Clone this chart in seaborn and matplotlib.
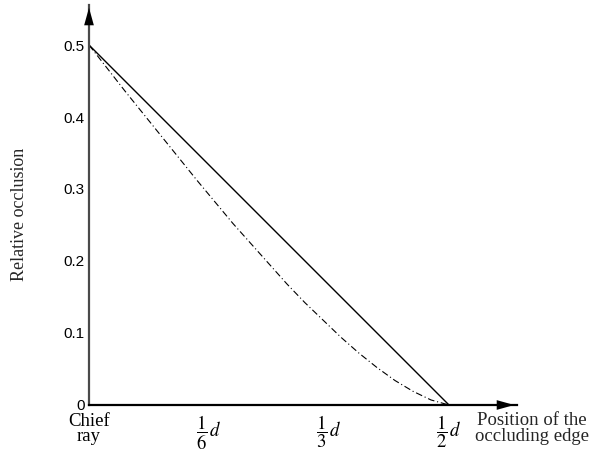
import numpy as np
import pandas as pd
import matplotlib
matplotlib.use("Agg")
import matplotlib.pyplot as plt
import seaborn as sns

# edge position in units of d, relative occlusion
edge_pos = [0, 0.025, 0.05, 0.075, 0.1, 0.125, 0.15, 0.175, 0.2, 0.225, 0.25,
            0.275, 0.3, 0.325, 0.35, 0.375, 0.4, 0.425, 0.45, 0.475, 0.5]
occl_curve = [0.5, 0.468, 0.436, 0.405, 0.374, 0.343, 0.312, 0.282, 0.252, 0.224, 0.196,
              0.168, 0.142, 0.118, 0.094, 0.072, 0.052, 0.034, 0.019, 0.007, 0.0]
line_pos = [0, 0.5]
occl_line = [0.5, 0.0]

x_ticks = [0, 1/6, 1/3, 1/2]
x_labels = ["Chief\nray", r"$\dfrac{1}{6}\,d$", r"$\dfrac{1}{3}\,d$", r"$\dfrac{1}{2}\,d$"]
y_ticks = [0, 0.1, 0.2, 0.3, 0.4, 0.5]
y_labels = ["0", "0.1", "0.2", "0.3", "0.4", "0.5"]

sns.set_style("white")
plt.rcParams["font.family"] = ["Liberation Serif", "DejaVu Serif"]
plt.rcParams["mathtext.fontset"] = "stix"

W, H = 603, 453
fig = plt.figure(figsize=(W / 100, H / 100), dpi=100)
x0, x1 = 89, 517
y0, y1 = 405, 5
ax = fig.add_axes([x0 / W, (H - y0) / H, (x1 - x0) / W, (y0 - y1) / H])
px = 0.5 / 360
ax.set_xlim(0, (x1 - x0) * px)
ax.set_ylim(0, (y0 - y1) * (0.5 / 360))

sns.lineplot(x=line_pos, y=occl_line, ax=ax, color="black", lw=1.0)
sns.lineplot(x=edge_pos, y=occl_curve, ax=ax, color="black", lw=0.8,
             linestyle=(0, (6, 2.5, 1, 2.5)))

for s in ["top", "right"]:
    ax.spines[s].set_visible(False)
ax.spines["left"].set_color("#4a4a4a")
ax.spines["left"].set_linewidth(1.6)
ax.spines["bottom"].set_color("black")
ax.spines["bottom"].set_linewidth(1.6)

# arrow heads
ax.annotate("", xy=(0, 1), xycoords="axes fraction", xytext=(0, 0.96),
            arrowprops=dict(arrowstyle="-|>,head_length=0.9,head_width=0.25",
                            color="black", lw=0, mutation_scale=14),
            annotation_clip=False)
ax.annotate("", xy=(1, 0), xycoords="axes fraction", xytext=(0.96, 0),
            arrowprops=dict(arrowstyle="-|>,head_length=0.9,head_width=0.25",
                            color="black", lw=0, mutation_scale=14),
            annotation_clip=False)

ax.set_xticks(x_ticks)
ax.set_xticklabels(x_labels, fontsize=13.5, linespacing=0.85)
ax.set_yticks(y_ticks)
ax.set_yticklabels(y_labels, fontsize=11, family=["Liberation Sans", "DejaVu Sans"])
ax.tick_params(axis="x", direction="in", length=4, width=1, pad=6, colors="black")
ax.tick_params(axis="y", direction="in", length=4, width=1, pad=3, colors="black")

fig.text(20 / W, 1 - 214 / H, "Relative occlusion", fontsize=13,
         rotation=90, ha="center", va="center")
fig.text(532 / W, 1 - 412 / H, "Position of the\noccluding edge", fontsize=13.5,
         ha="center", va="top", linespacing=0.9)

fig.savefig("out.png", dpi=100)
